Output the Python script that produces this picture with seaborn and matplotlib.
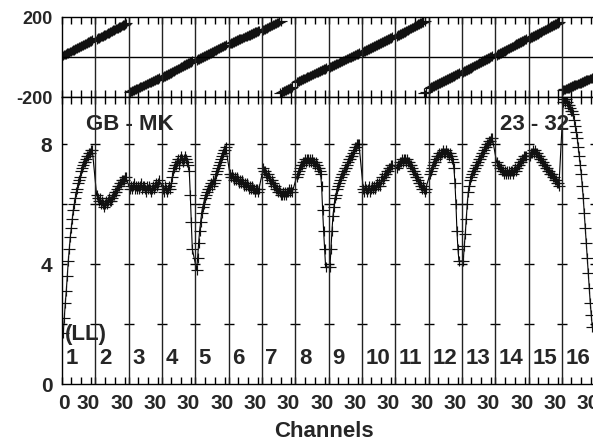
import numpy as np
import pandas as pd
import matplotlib
matplotlib.use("Agg")
import matplotlib.pyplot as plt
import seaborn as sns

# channels kept in every IF (band edges flagged)
channels = list(range(2, 32))
if_numbers = list(range(1, 17))

# amplitude per IF
amp_01 = [1.7, 2.2, 2.7, 3.1, 3.6, 4.1, 4.5, 4.9, 5.2, 5.5, 5.8, 6.0, 6.2, 6.4, 6.5,
          6.7, 6.8, 6.9, 7.1, 7.2, 7.3, 7.4, 7.4, 7.5, 7.6, 7.6, 7.7, 7.7, 7.8, 7.8]
amp_02 = [6.3, 6.2, 6.1, 6.2, 6.0, 6.1, 6.0, 5.9, 6.0, 6.1, 6.0, 6.1, 6.2, 6.1, 6.1,
          6.2, 6.3, 6.3, 6.4, 6.4, 6.5, 6.6, 6.6, 6.7, 6.7, 6.8, 6.8, 6.8, 6.9, 6.9]
amp_03 = [6.5, 6.6, 6.5, 6.6, 6.7, 6.5, 6.6, 6.5, 6.6, 6.5, 6.6, 6.7, 6.5, 6.6, 6.6,
          6.5, 6.4, 6.6, 6.5, 6.6, 6.5, 6.4, 6.5, 6.6, 6.5, 6.6, 6.7, 6.6, 6.7, 6.8]
amp_04 = [6.5, 6.4, 6.6, 6.5, 6.4, 6.5, 6.6, 6.5, 6.7, 6.9, 7.1, 7.2, 7.3, 7.3, 7.4,
          7.5, 7.3, 7.5, 7.6, 7.5, 7.4, 7.5, 7.6, 7.5, 7.4, 7.3, 7.1, 6.3, 5.4, 4.5]
amp_05 = [3.8, 4.2, 4.7, 5.1, 5.4, 5.7, 5.9, 6.0, 6.2, 6.3, 6.4, 6.5, 6.5, 6.6, 6.7,
          6.6, 6.8, 6.7, 6.8, 7.0, 7.1, 7.2, 7.3, 7.4, 7.5, 7.6, 7.7, 7.8, 7.8, 7.9]
amp_06 = [7.0, 6.9, 7.0, 6.9, 6.8, 6.9, 6.8, 6.9, 6.8, 6.7, 6.8, 6.7, 6.8, 6.7, 6.6,
          6.7, 6.6, 6.7, 6.6, 6.5, 6.6, 6.5, 6.6, 6.5, 6.5, 6.4, 6.5, 6.5, 6.4, 6.5]
amp_07 = [7.2, 7.1, 7.1, 7.0, 6.9, 7.0, 6.9, 6.8, 6.7, 6.8, 6.7, 6.6, 6.6, 6.5, 6.5,
          6.4, 6.5, 6.4, 6.3, 6.3, 6.4, 6.3, 6.4, 6.3, 6.4, 6.4, 6.5, 6.4, 6.5, 6.4]
amp_08 = [6.9, 7.0, 7.1, 7.2, 7.3, 7.3, 7.4, 7.4, 7.5, 7.4, 7.5, 7.5, 7.4, 7.5, 7.4,
          7.5, 7.4, 7.4, 7.3, 7.4, 7.3, 7.2, 7.2, 7.1, 7.0, 6.6, 5.8, 5.1, 4.5, 3.9]
amp_09 = [3.9, 4.5, 5.1, 5.6, 5.9, 6.2, 6.3, 6.5, 6.6, 6.7, 6.8, 6.9, 7.0, 7.0, 7.1,
          7.2, 7.2, 7.3, 7.4, 7.5, 7.5, 7.6, 7.6, 7.7, 7.8, 7.9, 7.9, 8.0, 8.0, 8.0]
amp_10 = [6.5, 6.4, 6.6, 6.5, 6.4, 6.5, 6.6, 6.4, 6.5, 6.6, 6.5, 6.6, 6.5, 6.6, 6.7,
          6.6, 6.7, 6.6, 6.8, 6.9, 6.8, 6.9, 7.0, 7.0, 7.1, 7.1, 7.2, 7.2, 7.3, 7.3]
amp_11 = [7.2, 7.3, 7.3, 7.4, 7.4, 7.5, 7.4, 7.5, 7.5, 7.4, 7.5, 7.4, 7.4, 7.3, 7.3,
          7.2, 7.1, 7.1, 7.0, 6.9, 6.9, 6.8, 6.7, 6.7, 6.6, 6.5, 6.6, 6.5, 6.4, 6.5]
amp_12 = [7.0, 7.1, 7.2, 7.3, 7.4, 7.4, 7.5, 7.6, 7.6, 7.7, 7.6, 7.7, 7.7, 7.8, 7.7,
          7.7, 7.8, 7.7, 7.7, 7.6, 7.7, 7.6, 7.5, 7.4, 7.2, 6.7, 6.0, 5.1, 4.5, 4.1]
amp_13 = [4.1, 4.6, 5.0, 5.5, 6.0, 6.4, 6.6, 6.8, 6.9, 7.0, 7.1, 7.1, 7.2, 7.3, 7.3,
          7.4, 7.5, 7.5, 7.6, 7.7, 7.7, 7.8, 7.9, 7.9, 8.0, 8.0, 8.1, 8.1, 8.2, 8.2]
amp_14 = [7.4, 7.3, 7.3, 7.2, 7.2, 7.1, 7.1, 7.0, 7.1, 7.0, 7.1, 7.0, 7.1, 7.0, 7.1,
          7.1, 7.0, 7.1, 7.2, 7.1, 7.2, 7.3, 7.3, 7.4, 7.4, 7.5, 7.5, 7.6, 7.6, 7.6]
amp_15 = [7.6, 7.7, 7.7, 7.8, 7.7, 7.8, 7.7, 7.7, 7.6, 7.6, 7.5, 7.5, 7.4, 7.4, 7.3,
          7.3, 7.2, 7.2, 7.1, 7.1, 7.0, 7.0, 7.0, 6.9, 6.9, 6.8, 6.8, 6.7, 6.7, 6.6]
amp_16 = [9.4, 9.5, 9.4, 9.5, 9.4, 9.3, 9.3, 9.2, 9.1, 9.1, 9.0, 8.8, 8.6, 8.4, 8.2,
          7.9, 7.6, 7.3, 7.0, 6.6, 6.2, 5.7, 5.2, 4.7, 4.2, 3.7, 3.2, 2.7, 2.3, 1.9]

# phase per IF (degrees)
phase_01 = [8, 12, 13, 15, 19, 21, 23, 27, 28, 32, 34, 36, 40, 42, 44,
            48, 49, 53, 55, 57, 61, 62, 66, 68, 70, 74, 75, 79, 81, 84]
phase_02 = [90, 94, 95, 97, 102, 103, 105, 110, 111, 113, 118, 119, 121, 126, 127,
            129, 134, 135, 137, 142, 143, 145, 150, 151, 153, 158, 159, 161, 166, 168]
phase_03 = [-175, -172, -171, -167, -166, -162, -161, -157, -157, -152, -151, -148, -147, -143, -142,
            -138, -137, -133, -133, -128, -127, -124, -123, -119, -118, -114, -113, -109, -109, -105]
phase_04 = [-100, -96, -95, -91, -90, -85, -84, -80, -79, -74, -73, -69, -68, -63, -62,
            -58, -57, -52, -51, -47, -46, -41, -40, -36, -35, -30, -29, -25, -24, -20]
phase_05 = [-15, -11, -11, -6, -5, -1, 0, 5, 5, 10, 11, 15, 16, 21, 21,
            26, 26, 31, 32, 36, 37, 42, 42, 47, 48, 52, 53, 58, 58, 62]
phase_06 = [68, 71, 71, 76, 76, 80, 80, 84, 85, 89, 89, 93, 93, 98, 98,
            102, 102, 106, 107, 111, 111, 115, 115, 120, 120, 124, 124, 128, 129, 132]
phase_07 = [135, 137, 141, 142, 146, 147, 152, 152, 157, 157, 162, 162, 167, 168, 172,
            173, 177, -179, 178, -176, -173, -171, -168, -166, -163, -160, -158, -155, -153, -150]
phase_08 = [-125, -122, -121, -117, -116, -112, -111, -107, -107, -102, -101, -98, -97, -93, -92,
            -88, -87, -83, -83, -78, -77, -74, -73, -69, -68, -64, -63, -59, -59, -55]
phase_09 = [-50, -47, -46, -42, -41, -37, -36, -32, -32, -27, -26, -23, -22, -18, -17,
            -13, -12, -8, -8, -3, -2, 1, 2, 6, 7, 11, 12, 16, 16, 20]
phase_10 = [25, 29, 29, 34, 34, 39, 40, 44, 45, 49, 50, 54, 55, 60, 60,
            65, 65, 70, 71, 75, 76, 80, 81, 85, 86, 91, 91, 96, 96, 100]
phase_11 = [105, 109, 110, 114, 115, 120, 120, 125, 126, 131, 132, 136, 137, 142, 143,
            147, 148, 153, 154, 158, 159, 164, 165, 169, 170, 175, 176, -179, 179, -175]
phase_12 = [-155, -151, -151, -146, -146, -141, -140, -136, -135, -131, -130, -125, -125, -120, -120,
            -115, -114, -110, -109, -105, -104, -99, -99, -94, -94, -89, -88, -84, -83, -80]
phase_13 = [-75, -71, -70, -66, -65, -60, -59, -54, -54, -49, -48, -43, -43, -38, -37,
            -32, -31, -27, -26, -21, -20, -16, -15, -10, -9, -4, -4, 1, 2, 5]
phase_14 = [10, 14, 15, 19, 20, 25, 26, 31, 31, 36, 37, 42, 42, 47, 48,
            53, 53, 58, 59, 64, 64, 69, 70, 75, 76, 80, 81, 86, 87, 90]
phase_15 = [95, 99, 100, 104, 105, 110, 111, 115, 116, 121, 122, 126, 127, 132, 133,
            137, 138, 143, 144, 148, 149, 154, 155, 159, 160, 165, 166, 170, 171, 175]
phase_16 = [-165, -162, -162, -158, -158, -154, -154, -150, -149, -145, -145, -141, -141, -137, -137,
            -133, -133, -129, -129, -125, -125, -120, -120, -116, -116, -112, -112, -108, -108, -105]

amp_lists = [amp_01, amp_02, amp_03, amp_04, amp_05, amp_06, amp_07, amp_08,
             amp_09, amp_10, amp_11, amp_12, amp_13, amp_14, amp_15, amp_16]
phase_lists = [phase_01, phase_02, phase_03, phase_04, phase_05, phase_06, phase_07, phase_08,
               phase_09, phase_10, phase_11, phase_12, phase_13, phase_14, phase_15, phase_16]

amp_err = 0.16
phase_err = 24

IF_W = 33.33      # width of one IF box in channel units
CH_OFF = -0.7     # channel 0 sits just left of the IF boundary
N_IF = len(if_numbers)

rows = []
for k, (a_vals, p_vals) in enumerate(zip(amp_lists, phase_lists)):
    for ch, a, p in zip(channels, a_vals, p_vals):
        rows.append({"IF": if_numbers[k], "chan": ch,
                     "x": k * IF_W + ch + CH_OFF, "amp": a, "phase": p})
df = pd.DataFrame(rows)

sns.set_style("white")
plt.rcParams["font.family"] = ["Liberation Sans", "DejaVu Sans"]
plt.rcParams["font.weight"] = "bold"

W, H = 593, 441
fig = plt.figure(figsize=(W / 100, H / 100), dpi=100)
ax_ph = fig.add_axes([62 / W, 1 - 97 / H, 533.3 / W, 80 / H])
ax_am = fig.add_axes([62 / W, 1 - 384 / H, 533.3 / W, 287 / H])

ink = "#111111"

# phase panel
ax_ph.errorbar(df["x"], df["phase"], xerr=6, yerr=phase_err, fmt="none",
               ecolor=ink, elinewidth=0.85, capsize=0)
ax_ph.axhline(0, color="black", lw=1.0)
ax_ph.set_ylim(-200, 200)

# amplitude panel
sns.lineplot(data=df, x="x", y="amp", ax=ax_am, color="black", lw=0.8,
             sort=False, estimator=None)
ax_am.errorbar(df["x"], df["amp"], xerr=6, yerr=amp_err, fmt="none",
               ecolor=ink, elinewidth=0.85, capsize=0)
ax_am.set_ylim(0, 287 / 30)

bounds = [k * IF_W for k in range(N_IF + 1)]
levels = [2, 4, 6, 8]
bx = [b for b in bounds for _ in levels]
by = [lv for _ in bounds for lv in levels]
ax_am.plot(bx, by, ls="none", marker="_", ms=7.5, mew=1.0, color="black")

minor_ticks = bounds + [k * IF_W + c + CH_OFF for k in range(N_IF) for c in (10, 20, 30)]
label_pos = [2.0] + [k * IF_W + 26.5 for k in range(N_IF)]
label_txt = ["0"] + ["30"] * N_IF

for ax in (ax_ph, ax_am):
    ax.set_xlim(0, N_IF * IF_W)
    for b in bounds[1:-1]:
        ax.axvline(b, color="#222222", lw=1.0)
    ax.set_xticks(minor_ticks, minor=True)
    ax.tick_params(axis="x", which="minor", direction="in", length=5, width=1,
                   top=True, bottom=True, color="black")
    for s in ax.spines.values():
        s.set_color("black")
        s.set_linewidth(1.0)
    ax.set_xlabel("")
    ax.set_ylabel("")

ax_ph.set_xticks([])
ax_ph.set_yticks([-200, 200])
ax_ph.set_yticklabels(["-200", "200"], fontsize=13, fontweight="bold")
ax_ph.tick_params(axis="y", length=0, pad=6.5)

ax_am.set_xticks(label_pos)
ax_am.set_xticklabels(label_txt, fontsize=15, fontweight="bold")
ax_am.tick_params(axis="x", which="major", length=0, pad=7)
ax_am.set_yticks([0, 4, 8])
ax_am.set_yticklabels(["0", "4", "8"], fontsize=15, fontweight="bold")
ax_am.tick_params(axis="y", length=0, pad=7)

# annotations
ax_am.text(24, (384 - 130) / 30, "GB - MK", fontsize=16, fontweight="bold",
           ha="left", va="baseline")
ax_am.text(438, (384 - 130) / 30, "23 - 32", fontsize=16, fontweight="bold",
           ha="left", va="baseline")
ax_am.text(3, (384 - 340) / 30, "(LL)", fontsize=16, fontweight="bold",
           ha="left", va="baseline")
for k, n in enumerate(if_numbers):
    ax_am.text(k * IF_W + 3.5, (384 - 364) / 30, str(n), fontsize=16,
               fontweight="bold", ha="left", va="baseline")

fig.text(323.5 / W, 1 - 437 / H, "Channels", fontsize=16, fontweight="bold",
         ha="center", va="baseline")

fig.savefig("out.png", dpi=100)
